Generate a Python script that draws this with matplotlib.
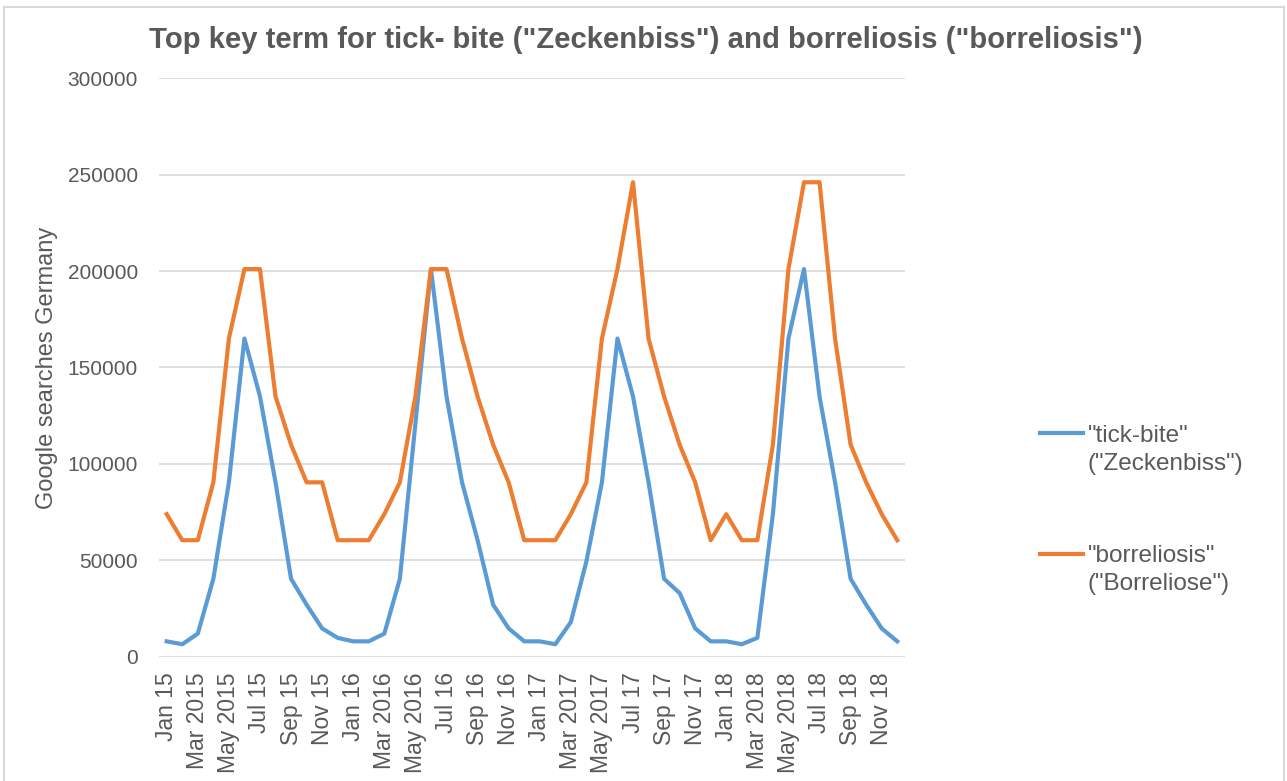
import numpy as np
import matplotlib.pyplot as plt
from matplotlib.legend_handler import HandlerLine2D
from matplotlib.patches import Rectangle

# monthly search volumes, Jan 2015 - Dec 2018
months = ['Jan 15', 'Feb 15', 'Mar 2015', 'Apr 15', 'May 2015', 'Jun 15',
          'Jul 15', 'Aug 15', 'Sep 15', 'Oct 15', 'Nov 15', 'Dec 15',
          'Jan 16', 'Feb 16', 'Mar 2016', 'Apr 16', 'May 2016', 'Jun 16',
          'Jul 16', 'Aug 16', 'Sep 16', 'Oct 16', 'Nov 16', 'Dec 16',
          'Jan 17', 'Feb 17', 'Mar 2017', 'Apr 17', 'May 2017', 'Jun 17',
          'Jul 17', 'Aug 17', 'Sep 17', 'Oct 17', 'Nov 17', 'Dec 17',
          'Jan 18', 'Feb 18', 'Mar 2018', 'Apr 18', 'May 2018', 'Jun 18',
          'Jul 18', 'Aug 18', 'Sep 18', 'Oct 18', 'Nov 18', 'Dec 18']

tick_bite = [8100, 6600, 12100, 40500, 90500, 165000, 135000, 90500, 40500, 27100, 14800, 9900,
             8100, 8100, 12100, 40500, 121000, 201000, 135000, 90500, 60500, 27100, 14800, 8100,
             8100, 6600, 18100, 49500, 90500, 165000, 135000, 90500, 40500, 33100, 14800, 8100,
             8100, 6600, 9900, 74000, 165000, 201000, 135000, 90500, 40500, 27100, 14800, 8100]

borreliosis = [74000, 60500, 60500, 90500, 165000, 201000, 201000, 135000, 110000, 90500, 90500, 60500,
               60500, 60500, 74000, 90500, 135000, 201000, 201000, 165000, 135000, 110000, 90500, 60500,
               60500, 60500, 74000, 90500, 165000, 201000, 246000, 165000, 135000, 110000, 90500, 60500,
               74000, 60500, 60500, 110000, 201000, 246000, 246000, 165000, 110000, 90500, 74000, 60500]

labels = ['"tick-bite"\n("Zeckenbiss")', '"borreliosis"\n("Borreliose")']


class TopLineHandler(HandlerLine2D):
    # put the legend line next to the first text line, like Excel does
    def create_artists(self, legend, orig_handle, xdescent, ydescent, width, height, fontsize, trans):
        arts = super().create_artists(legend, orig_handle, xdescent, ydescent, width, height, fontsize, trans)
        for a in arts:
            a.set_ydata(np.asarray(a.get_ydata()) + 0.68 * fontsize)
        return arts


plt.rcParams['font.family'] = ['Liberation Sans', 'DejaVu Sans']
grey = '#595959'

fig = plt.figure(figsize=(12.87, 7.81), dpi=100)
ax = fig.add_axes([0.1235, 0.1588, 0.5797, 0.7413])

x = np.arange(len(months))
l1, = ax.plot(x, tick_bite, color='#5B9BD5', lw=3, solid_joinstyle='round')
l2, = ax.plot(x, borreliosis, color='#ED7D31', lw=3, solid_joinstyle='round')

ax.set_xlim(-0.5, len(months) - 0.5)
ax.set_ylim(0, 300000)
ax.set_yticks(range(0, 300001, 50000))
ax.set_xticks(x[::2])
ax.set_xticklabels(months[::2], rotation=90)
ax.tick_params(axis='both', length=0, colors=grey, labelsize=15)
ax.tick_params(axis='x', labelsize=16.5, pad=11)
ax.tick_params(axis='y', pad=15)
ax.grid(axis='y', color='#D9D9D9', lw=1.2)
ax.set_axisbelow(True)
for s in ax.spines.values():
    s.set_visible(False)

ax.set_ylabel('Google searches Germany', fontsize=17, color=grey)
ax.yaxis.set_label_coords(-0.135, 0.5)

fig.text(0.502, 0.949, 'Top key term for tick- bite ("Zeckenbiss") and borreliosis ("borreliosis")',
         ha='center', va='center', fontsize=21.1, fontweight='bold', color=grey)

leg = fig.legend([l1, l2], labels, loc='center left', bbox_to_anchor=(1040 / 1287, 1 - 510 / 781),
                 frameon=False, fontsize=17.5, handlelength=1.75, handletextpad=0.2,
                 labelspacing=2.9, borderpad=0, borderaxespad=0, labelcolor=grey,
                 handler_map={l1: TopLineHandler(), l2: TopLineHandler()})
for t in leg.get_texts():
    t.set_linespacing(1.35)

fig.add_artist(Rectangle((4 / 1287, -0.02), 1280 / 1287, 1.02 - 7 / 781, transform=fig.transFigure,
                         fill=False, edgecolor='#D9D9D9', lw=1.5))

fig.savefig('out.png', dpi=100)
